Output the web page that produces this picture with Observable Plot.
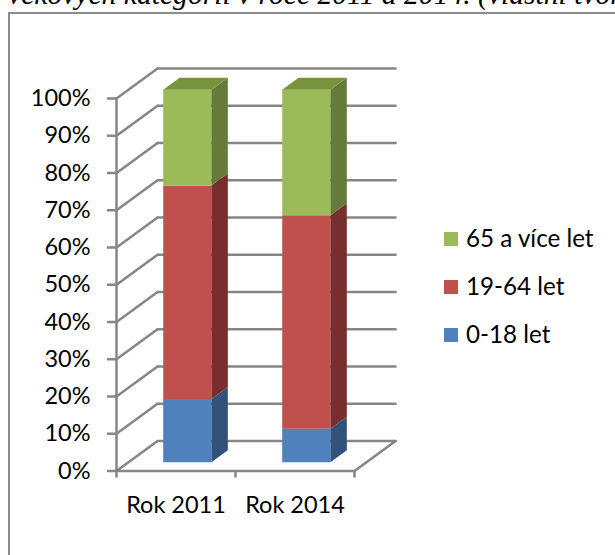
<!DOCTYPE html>
<html><head><meta charset="utf-8">
<script src="https://cdn.jsdelivr.net/npm/d3@7"></script>
<script src="https://cdn.jsdelivr.net/npm/@observablehq/plot@0.6"></script>
<style>
html,body{margin:0;padding:0;background:#fff;overflow:hidden}
#page{position:relative;width:615px;height:555px;overflow:hidden;font-family:Lato,sans-serif}
#title{position:absolute;left:8px;top:-22px;white-space:nowrap;font:italic 29.6px "Liberation Serif",serif;color:#000}
#frame{position:absolute;left:8px;top:12px;width:640px;height:600px;box-sizing:border-box;border:2px solid #8c8c8c}
#chart{position:absolute;left:0;top:0}
#chart svg{overflow:visible}
.lg{position:absolute;left:444px;font-size:24.2px;line-height:24px;color:#000;white-space:nowrap;height:24px}
.lg i{position:absolute;left:0;top:5px;width:14px;height:14px}
.lg span{position:absolute;left:22px;top:-1px}
</style></head><body>
<div id="page">
<div id="title">věkových kategorií v roce 2011 a 2014. (vlastní tvorba)</div>
<div id="frame"></div>
<div id="chart"></div>
</div>
<script>
const years = ["Rok 2011", "Rok 2014"];
const seriesNames = ["0-18 let", "19-64 let", "65 a více let"];
const age0to18 = [17, 9];
const age19to64 = [57.3, 57.3];
const age65plus = [25.7, 33.7];
const yTicks = [0,10,20,30,40,50,60,70,80,90,100];
const frontColors = ["#4F81BD", "#C0504D", "#9BBB59"];
const sideColors = ["#33527A", "#772F2D", "#657B3A"];
const topColor = "#77933C";
const gridColor = "#868686";

// oblique projection of the depth axis, in chart units
const depthX = 0.345, depthY = 8.06;
const barWidth = 0.405, zNear = 0.29, zFar = 0.69;
const px = (x, z) => x + z * depthX;
const py = (v, z) => v + z * depthY;

const stacks = years.map((year, i) => {
  let base = 0;
  return [age0to18, age19to64, age65plus].map((vals, s) => {
    const seg = {year, s, cx: i + 0.495, y0: base, y1: base + vals[i]};
    base += vals[i];
    return seg;
  });
}).flat();

const poly = (id, fill, pts) => pts.map(([x, v, z]) => ({id, fill, x: px(x, z), y: py(v, z)}));
const polys = [];
for (const d of stacks) {
  const l = d.cx - barWidth / 2, r = d.cx + barWidth / 2;
  polys.push(...poly(d.year + d.s + "f", frontColors[d.s],
    [[l,d.y0,zNear],[r,d.y0,zNear],[r,d.y1,zNear],[l,d.y1,zNear]]));
  polys.push(...poly(d.year + d.s + "s", sideColors[d.s],
    [[r,d.y0,zNear],[r,d.y0,zFar],[r,d.y1,zFar],[r,d.y1,zNear]]));
  if (d.s === 2) polys.push(...poly(d.year + "t", topColor,
    [[l,d.y1,zNear],[r,d.y1,zNear],[r,d.y1,zFar],[l,d.y1,zFar]]));
}

const backLines = yTicks.flatMap(v => [{id:v, x:px(0,1), y:py(v,1)}, {id:v, x:px(2,1), y:py(v,1)}]);
const wallLines = yTicks.flatMap(v => [{id:v, x:px(0,0), y:py(v,0)}, {id:v, x:px(0,1), y:py(v,1)}]);
const floorEdges = [
  {id:"r", x:px(2,0), y:py(0,0)}, {id:"r", x:px(2,1), y:py(0,1)},
  {id:"f", x:px(0,0), y:py(0,0)}, {id:"f", x:px(2,0), y:py(0,0)}
];
const gridStyle = {x:"x", y:"y", z:"id", stroke:gridColor, strokeWidth:2.5, curve:"linear"};

const chart = Plot.plot({
  width: 615, height: 555,
  marginLeft: 116, marginRight: 261, marginTop: 98, marginBottom: 84.5,
  x: {domain: [0, 2], label: null},
  y: {domain: [0, 100], label: null},
  color: {type: "identity"},
  style: {background: "transparent", fontFamily: "Lato, sans-serif", overflow: "visible"},
  marks: [
    Plot.line(backLines, gridStyle),
    Plot.line(wallLines, gridStyle),
    Plot.line(floorEdges, gridStyle),
    Plot.ruleX([0], {y1: 0, y2: 100, stroke: gridColor, strokeWidth: 2.5}),
    Plot.line(polys, {x:"x", y:"y", z:"id", fill:"fill", stroke:"none"}),
    Plot.axisY({ticks: yTicks, tickFormat: d => d + "%", tickSize: 9, tickPadding: 17,
      stroke: gridColor, strokeWidth: 2.5, fontSize: 23.5, label: null, fill: "#000"}),
    Plot.axisX({ticks: [0, 1, 2], tickFormat: () => "", tickSize: 7, stroke: gridColor, strokeWidth: 2.5, label: null}),
    Plot.axisX({ticks: [0.5, 1.5], tickFormat: d => years[Math.floor(d)], tickSize: 0, tickPadding: 25,
      fontSize: 23.5, fill: "#000", label: null})
  ]
});
document.getElementById("chart").append(chart);

const page = document.getElementById("page");
[[2, 227], [1, 275], [0, 323]].forEach(([s, top]) => {
  const el = document.createElement("div");
  el.className = "lg";
  el.style.top = top + "px";
  const sw = document.createElement("i");
  sw.style.background = frontColors[s];
  const tx = document.createElement("span");
  tx.textContent = seriesNames[s];
  el.append(sw, tx);
  page.append(el);
});
</script>
</body></html>
